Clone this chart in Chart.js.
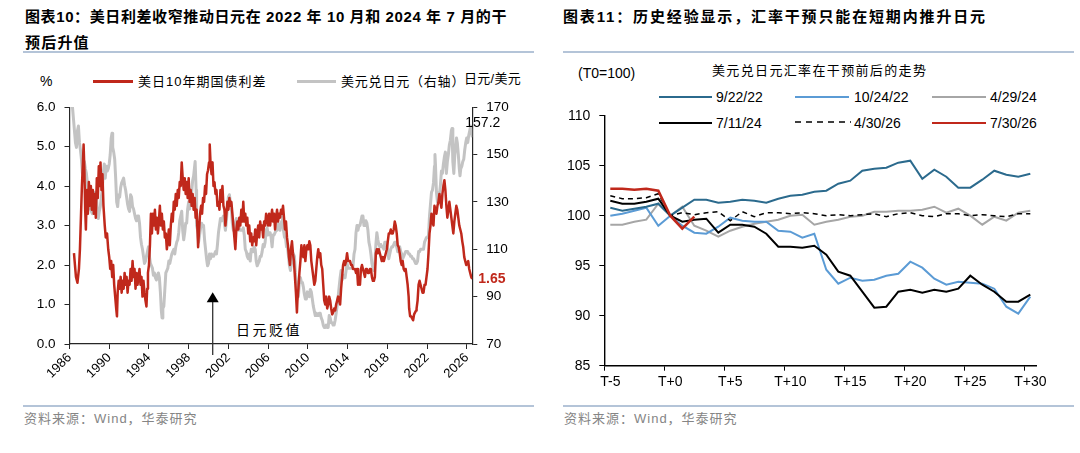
<!DOCTYPE html>
<html lang="zh-CN">
<head>
<meta charset="utf-8">
<script src="https://cdn.jsdelivr.net/npm/chart.js@4.4.1/dist/chart.umd.min.js"></script>
<style>
html,body{margin:0;padding:0;background:#fff;}
body{width:1080px;height:453px;position:relative;overflow:hidden;font-family:"Liberation Sans","Noto Sans CJK SC",sans-serif;color:#000;}
.a{position:absolute;white-space:nowrap;line-height:1;}
.ttl{font-weight:bold;font-size:15px;letter-spacing:1.2px;line-height:26px;}
.sep{position:absolute;height:2px;background:#b4c4d8;}
.foot{font-size:13px;color:#858585;letter-spacing:1px;}
.lg{font-size:13px;letter-spacing:1px;}
.lg2{font-size:14px;}
.ln{position:absolute;height:2.2px;}
canvas{position:absolute;}
</style>
</head>
<body>
<div class="a ttl" style="left:25px;top:4px;letter-spacing:0.6px;">图表10：美日利差收窄推动日元在 2022 年 10 月和 2024 年 7 月的干<br><span style="letter-spacing:1.2px;">预后升值</span></div>
<div class="sep" style="left:23px;top:51px;width:511px;"></div>
<div class="a ttl" style="left:563px;top:4px;letter-spacing:1.85px;">图表11：历史经验显示，汇率干预只能在短期内推升日元</div>
<div class="sep" style="left:563px;top:51px;width:511px;"></div>

<!-- left legend / axis titles -->
<div class="a lg" style="left:40px;top:74px;font-size:14px;letter-spacing:0;">%</div>
<div class="ln" style="left:93px;top:80px;width:40px;height:2.5px;background:#c0281b;"></div>
<div class="a lg" style="left:138px;top:74.5px;">美日10年期国债利差</div>
<div class="ln" style="left:297px;top:80px;width:39px;height:2.5px;background:#c3c3c3;"></div>
<div class="a lg" style="left:341px;top:74.5px;letter-spacing:0.8px;">美元兑日元（右轴）</div>
<div class="a lg" style="left:464px;top:72px;letter-spacing:0.3px;">日元/美元</div>
<div class="a" style="left:236px;top:323px;font-size:14px;letter-spacing:2.5px;">日元贬值</div>

<!-- right legend / titles -->
<div class="a" style="left:578px;top:66px;font-size:14px;">(T0=100)</div>
<div class="a" style="left:712px;top:63.5px;font-size:13px;letter-spacing:1.35px;">美元兑日元汇率在干预前后的走势</div>
<div class="ln" style="left:659px;top:96px;width:53px;background:#2b6a8d;"></div>
<div class="a lg2" style="left:716px;top:90px;">9/22/22</div>
<div class="ln" style="left:795px;top:96px;width:54px;background:#5b9bd5;"></div>
<div class="a lg2" style="left:854px;top:90px;">10/24/22</div>
<div class="ln" style="left:932px;top:96px;width:54px;background:#a6a6a6;"></div>
<div class="a lg2" style="left:990px;top:90px;">4/29/24</div>
<div class="ln" style="left:659px;top:122px;width:53px;background:#000;"></div>
<div class="a lg2" style="left:716px;top:116px;">7/11/24</div>
<svg style="position:absolute;left:795px;top:120px;" width="56" height="4"><line x1="0" y1="2" x2="56" y2="2" stroke="#000" stroke-width="1.5" stroke-dasharray="6,5"/></svg>
<div class="a lg2" style="left:854px;top:116px;">4/30/26</div>
<div class="ln" style="left:932px;top:121.5px;width:54px;height:2.5px;background:#c0281b;"></div>
<div class="a lg2" style="left:990px;top:116px;">7/30/26</div>

<canvas id="c1" width="540" height="300" style="left:0;top:90px;"></canvas>
<canvas id="c2" width="540" height="310" style="left:540px;top:90px;"></canvas>

<div class="sep" style="left:23px;top:405px;width:511px;"></div>
<div class="sep" style="left:563px;top:405px;width:511px;"></div>
<div class="a foot" style="left:24px;top:412px;">资料来源：Wind，华泰研究</div>
<div class="a foot" style="left:564px;top:412px;">资料来源：Wind，华泰研究</div>

<script>
// ---------- Left chart data ----------
const xTickYears = [1986,1990,1994,1998,2002,2006,2010,2014,2018,2022,2026];
const spreadDates = [
1986.45,1986.55,1986.65,1986.8,1986.95,
1987.05,1987.15,1987.25,1987.35,1987.42,1987.5,1987.58,1987.65,1987.75,1987.85,1987.95,
1988.05,1988.15,1988.25,1988.35,1988.45,1988.55,1988.65,1988.75,1988.85,1988.95,
1989.05,1989.12,1989.22,1989.32,1989.42,1989.55,1989.65,1989.78,1989.9,
1990.0,1990.1,1990.2,1990.3,1990.4,1990.5,1990.6,1990.7,1990.78,1990.85,1990.95,
1991.05,1991.15,1991.25,1991.35,1991.45,1991.55,1991.65,1991.75,1991.85,1991.95,
1992.05,1992.15,1992.25,1992.35,1992.45,1992.55,1992.65,1992.75,1992.85,1992.95,
1993.05,1993.15,1993.25,1993.35,1993.45,1993.55,1993.65,1993.75,1993.82,1993.9,
1994.0,1994.1,1994.2,1994.3,1994.4,1994.5,1994.6,1994.7,1994.8,1994.9,
1995.0,1995.1,1995.2,1995.3,1995.4,1995.5,1995.6,1995.7,1995.8,1995.9,
1996.0,1996.1,1996.2,1996.3,1996.4,1996.5,1996.6,1996.7,1996.8,1996.9,
1997.0,1997.1,1997.2,1997.3,1997.4,1997.5,1997.6,1997.7,1997.8,1997.9,
1998.0,1998.1,1998.2,1998.3,1998.4,1998.5,1998.6,1998.7,1998.8,1998.9,1998.95,
1999.05,1999.15,1999.25,1999.35,1999.45,1999.55,1999.65,1999.75,1999.85,1999.95,
2000.05,2000.12,2000.2,2000.3,2000.4,2000.5,2000.6,2000.7,2000.8,2000.9,
2001.0,2001.1,2001.2,2001.3,2001.4,2001.5,2001.6,2001.7,2001.8,2001.9,
2002.0,2002.1,2002.2,2002.3,2002.4,2002.5,2002.6,2002.7,2002.8,2002.9,
2003.0,2003.1,2003.2,2003.3,2003.4,2003.5,2003.6,2003.7,2003.8,2003.9,
2004.0,2004.1,2004.2,2004.3,2004.4,2004.5,2004.6,2004.7,2004.8,2004.9,
2005.0,2005.1,2005.2,2005.3,2005.4,2005.5,2005.6,2005.7,2005.8,2005.9,
2006.0,2006.1,2006.2,2006.3,2006.4,2006.5,2006.6,2006.7,2006.8,2006.9,
2007.0,2007.1,2007.2,2007.3,2007.4,2007.5,2007.6,2007.7,2007.8,2007.9,
2008.0,2008.1,2008.2,2008.3,2008.4,2008.5,2008.6,2008.7,2008.8,2008.9,2008.95,
2009.05,2009.15,2009.25,2009.35,2009.45,2009.55,2009.65,2009.75,2009.85,2009.95,
2010.05,2010.15,2010.25,2010.35,2010.45,2010.55,2010.65,2010.75,2010.85,2010.95,
2011.05,2011.15,2011.25,2011.35,2011.45,2011.55,2011.65,2011.75,2011.85,2011.95,
2012.05,2012.15,2012.25,2012.35,2012.45,2012.55,2012.65,2012.75,2012.85,2012.95,
2013.05,2013.15,2013.25,2013.35,2013.45,2013.55,2013.65,2013.75,2013.85,2013.95,
2014.05,2014.15,2014.25,2014.35,2014.45,2014.55,2014.65,2014.75,2014.85,2014.95,
2015.05,2015.15,2015.25,2015.35,2015.45,2015.55,2015.65,2015.75,2015.85,2015.95,
2016.05,2016.15,2016.25,2016.35,2016.45,2016.55,2016.65,2016.75,2016.85,2016.95,
2017.05,2017.15,2017.25,2017.35,2017.45,2017.55,2017.65,2017.75,2017.85,2017.95,
2018.05,2018.15,2018.25,2018.35,2018.45,2018.55,2018.65,2018.75,2018.85,2018.95,
2019.05,2019.15,2019.25,2019.35,2019.45,2019.55,2019.65,2019.75,2019.85,2019.95,
2020.05,2020.15,2020.2,2020.3,2020.4,2020.5,2020.6,2020.7,2020.8,2020.9,2020.95,
2021.05,2021.15,2021.25,2021.35,2021.45,2021.55,2021.65,2021.75,2021.85,2021.95,
2022.05,2022.15,2022.25,2022.35,2022.45,2022.55,2022.65,2022.75,2022.85,2022.95,
2023.05,2023.15,2023.25,2023.35,2023.45,2023.55,2023.65,2023.75,2023.85,2023.95,
2024.05,2024.15,2024.25,2024.35,2024.45,2024.55,2024.65,2024.75,2024.85,2024.95,
2025.05,2025.15,2025.25,2025.35,2025.45,2025.55,2025.65,2025.75,2025.85,2025.95,
2026.05,2026.15,2026.25,2026.35,2026.45,2026.55
];
const spreadValues = [
2.3,2.0,1.7,1.55,1.9,
2.4,3.2,4.0,4.6,5.05,4.4,3.4,2.9,3.9,3.3,4.1,
3.5,4.0,3.4,3.9,3.3,3.8,3.2,4.2,3.7,4.5,
4.0,4.6,3.9,4.3,3.5,3.0,2.7,2.8,2.4,
2.2,1.9,2.1,1.7,2.0,1.5,1.2,0.9,0.7,1.3,1.6,
1.4,1.7,1.3,1.6,1.4,1.8,1.5,1.7,1.3,1.6,
1.5,1.9,1.6,2.1,1.7,1.9,1.4,1.8,1.5,1.7,
1.9,1.5,1.7,1.2,1.6,1.3,1.1,0.95,1.4,1.8,
2.0,2.5,3.3,2.8,3.3,3.0,3.4,2.9,3.2,2.8,
3.1,3.5,3.0,3.3,2.9,3.1,2.7,2.8,2.4,2.6,
2.9,2.5,3.0,3.3,3.1,3.6,3.4,3.8,3.5,3.9,
3.7,4.1,4.0,4.6,4.2,3.9,4.2,3.8,4.1,3.7,
4.2,3.6,3.9,3.5,3.8,3.4,3.7,3.2,3.4,2.8,2.45,
2.9,3.3,3.5,3.3,3.7,3.6,4.0,3.8,4.3,4.4,
4.6,5.05,4.6,4.3,4.6,4.0,4.1,3.8,3.9,3.5,
3.6,3.4,3.9,3.6,4.0,3.5,3.4,3.0,3.3,3.6,
3.4,3.7,3.5,3.6,3.3,3.0,2.7,2.4,2.9,3.1,
2.9,3.2,3.0,3.4,3.1,3.6,3.1,3.3,3.0,3.2,
2.8,3.0,2.6,2.8,2.5,2.7,2.6,2.9,2.5,2.8,
3.0,2.7,3.1,2.9,3.0,2.7,3.1,3.0,3.3,3.2,
3.0,3.3,3.0,3.2,3.4,3.1,3.3,2.9,3.2,3.4,
3.1,3.3,3.2,3.4,3.3,3.5,3.2,2.9,3.1,2.7,
2.5,2.2,2.0,2.4,2.6,2.3,2.1,1.7,1.3,0.8,1.1,
1.4,1.8,2.1,2.5,2.3,2.2,2.5,2.1,2.4,2.5,
2.4,2.6,2.5,2.1,1.9,1.7,1.5,1.6,1.9,2.2,
2.4,2.2,2.3,2.0,1.9,1.5,1.1,1.0,1.2,0.9,
1.0,1.2,1.1,0.9,0.75,0.8,0.9,0.85,1.0,1.1,
1.2,1.1,1.0,1.4,1.7,2.0,2.1,2.0,2.1,2.3,
2.1,2.1,2.1,2.0,2.0,1.9,1.9,1.9,1.8,1.9,
1.5,1.6,1.5,1.9,2.0,1.9,1.8,1.7,1.9,1.9,
1.8,1.8,1.9,1.9,1.7,1.6,1.6,1.7,2.3,2.4,
2.3,2.4,2.3,2.2,2.1,2.2,2.1,2.2,2.3,2.4,
2.6,2.8,2.8,2.9,2.8,2.8,2.9,3.1,3.0,2.8,
2.5,2.45,2.3,2.1,2.0,2.1,1.9,1.85,1.9,1.7,
1.5,1.2,0.9,0.7,0.7,0.65,0.6,0.75,0.8,0.85,0.9,
1.1,1.5,1.6,1.5,1.4,1.3,1.3,1.5,1.5,1.7,
1.9,2.3,2.8,3.0,3.3,3.1,3.0,3.5,3.4,3.3,
3.5,3.6,3.8,3.6,3.45,3.8,4.0,4.15,3.9,3.5,
3.2,3.4,3.6,3.4,3.2,3.0,2.8,3.1,3.3,3.5,
3.4,3.2,3.0,2.9,2.8,2.6,2.45,2.2,2.1,2.0,
2.05,2.1,1.9,1.8,1.7,1.65
];
const fxDates = [
1986.0,1986.15,1986.3,1986.4,1986.5,1986.6,1986.7,1986.8,1986.9,
1987.0,1987.1,1987.2,1987.3,1987.4,1987.5,1987.6,1987.7,1987.8,1987.9,
1988.0,1988.1,1988.2,1988.3,1988.4,1988.5,1988.6,1988.7,1988.8,1988.9,
1989.0,1989.1,1989.2,1989.3,1989.4,1989.5,1989.6,1989.7,1989.8,1989.9,
1990.0,1990.1,1990.2,1990.28,1990.35,1990.45,1990.55,1990.65,1990.75,1990.85,1990.95,
1991.05,1991.15,1991.25,1991.35,1991.45,1991.55,1991.65,1991.75,1991.85,1991.95,
1992.05,1992.15,1992.25,1992.35,1992.45,1992.55,1992.65,1992.75,1992.85,1992.95,
1993.05,1993.15,1993.25,1993.35,1993.45,1993.55,1993.65,1993.75,1993.85,1993.95,
1994.05,1994.15,1994.25,1994.35,1994.45,1994.55,1994.65,1994.75,1994.85,1994.95,
1995.05,1995.15,1995.25,1995.32,1995.4,1995.5,1995.6,1995.7,1995.8,1995.9,
1996.0,1996.1,1996.2,1996.3,1996.4,1996.5,1996.6,1996.7,1996.8,1996.9,
1997.0,1997.1,1997.2,1997.3,1997.4,1997.5,1997.6,1997.7,1997.8,1997.9,
1998.0,1998.1,1998.2,1998.3,1998.4,1998.5,1998.6,1998.65,1998.75,1998.8,1998.9,
1999.0,1999.1,1999.2,1999.3,1999.4,1999.5,1999.6,1999.7,1999.8,1999.9,
2000.0,2000.1,2000.2,2000.3,2000.4,2000.5,2000.6,2000.7,2000.8,2000.9,
2001.0,2001.1,2001.2,2001.3,2001.4,2001.5,2001.6,2001.7,2001.8,2001.9,
2002.0,2002.1,2002.2,2002.3,2002.4,2002.5,2002.6,2002.7,2002.8,2002.9,
2003.0,2003.1,2003.2,2003.3,2003.4,2003.5,2003.6,2003.7,2003.8,2003.9,
2004.0,2004.1,2004.2,2004.3,2004.4,2004.5,2004.6,2004.7,2004.8,2004.9,
2005.0,2005.1,2005.2,2005.3,2005.4,2005.5,2005.6,2005.7,2005.8,2005.9,
2006.0,2006.1,2006.2,2006.3,2006.4,2006.5,2006.6,2006.7,2006.8,2006.9,
2007.0,2007.1,2007.2,2007.3,2007.4,2007.45,2007.55,2007.65,2007.75,2007.85,2007.95,
2008.05,2008.15,2008.25,2008.35,2008.45,2008.55,2008.65,2008.75,2008.85,2008.95,
2009.05,2009.15,2009.25,2009.35,2009.45,2009.55,2009.65,2009.75,2009.85,2009.95,
2010.05,2010.15,2010.25,2010.35,2010.45,2010.55,2010.65,2010.75,2010.85,2010.95,
2011.05,2011.15,2011.25,2011.35,2011.45,2011.55,2011.65,2011.75,2011.85,2011.95,
2012.05,2012.15,2012.25,2012.35,2012.45,2012.55,2012.65,2012.75,2012.85,2012.95,
2013.05,2013.15,2013.25,2013.35,2013.45,2013.55,2013.65,2013.75,2013.85,2013.95,
2014.05,2014.15,2014.25,2014.35,2014.45,2014.55,2014.65,2014.75,2014.85,2014.95,
2015.05,2015.15,2015.25,2015.35,2015.45,2015.55,2015.65,2015.75,2015.85,2015.95,
2016.05,2016.15,2016.25,2016.35,2016.45,2016.55,2016.65,2016.75,2016.85,2016.95,
2017.05,2017.15,2017.25,2017.35,2017.45,2017.55,2017.65,2017.75,2017.85,2017.95,
2018.05,2018.15,2018.25,2018.35,2018.45,2018.55,2018.65,2018.75,2018.85,2018.95,
2019.05,2019.15,2019.25,2019.35,2019.45,2019.55,2019.65,2019.75,2019.85,2019.95,
2020.05,2020.15,2020.25,2020.35,2020.45,2020.55,2020.65,2020.75,2020.85,2020.95,
2021.05,2021.15,2021.25,2021.35,2021.45,2021.55,2021.65,2021.75,2021.85,2021.95,
2022.05,2022.15,2022.25,2022.35,2022.45,2022.55,2022.65,2022.75,2022.8,2022.85,2022.95,
2023.05,2023.15,2023.25,2023.35,2023.45,2023.55,2023.65,2023.75,2023.85,2023.95,
2024.05,2024.15,2024.25,2024.35,2024.45,2024.52,2024.6,2024.7,2024.8,2024.9,2024.97,
2025.05,2025.15,2025.25,2025.32,2025.4,2025.5,2025.6,2025.7,2025.8,2025.9,
2026.0,2026.1,2026.2,2026.3,2026.4,2026.5,2026.56
];
const fxValues = [
200,180,170,165,160,155,153,160,162,
155,152,148,142,145,147,144,142,138,130,
127,128,126,125,126,132,134,133,126,123,
126,128,132,135,142,146,140,145,143,144,
146,150,157,159,153,151,148,140,130,128,133,
132,136,138,139,140,137,135,132,129,127,
126,133,132,128,127,125,123,122,124,124,
121,115,112,110,107,104,105,107,109,111,
107,104,103,102,99,100,98,97,99,100,
98,92,84,81,85,86,93,100,101,102,
105,104,106,108,109,110,108,111,113,114,
117,122,124,126,118,114,117,121,121,127,
130,127,132,134,139,141,145,147,135,120,118,
113,116,119,121,120,120,114,110,106,103,
104,108,106,108,107,107,108,109,108,112,
117,120,123,122,123,124,121,118,122,128,
132,133,130,127,121,118,119,121,123,120,
118,119,118,118,118,119,116,110,109,107,
106,108,105,110,110,109,111,110,105,103,
104,105,107,107,109,112,111,113,118,119,
116,117,117,115,111,116,116,117,118,118,
121,120,118,121,122,124,118,115,115,111,111,
107,103,101,104,107,108,107,100,96,90,
90,97,98,96,96,94,91,89,89,92,
91,90,93,92,89,86,84,82,83,82,
82,83,83,81,80,78,77,77,78,77,
77,82,81,79,79,78,78,80,83,86,
90,94,98,101,97,99,98,98,101,104,
102,102,102,102,102,103,108,110,117,120,
118,120,120,122,124,124,120,120,122,121,
118,113,111,108,104,102,101,104,112,117,
114,112,111,112,111,111,110,113,113,113,
109,106,108,110,111,111,112,113,113,111,
109,111,111,109,108,106,107,108,109,109,
109,108,108,107,107,106,106,105,104,104,
105,109,109,110,110,110,110,113,114,115,
115,116,124,129,134,135,138,145,150,146,134,
130,134,133,137,143,142,146,149,151,142,
147,150,154,156,160,161,147,142,150,154,157,
155,150,144,141,144,145,147,148,152,155,
157,155,158,160,162,160,157.2
];
const arrowYear = 2000.42, arrowTip = 1.31, arrowBase = -0.28;

// ---------- Right chart data ----------
const tLabels = ['T-5','T-4','T-3','T-2','T-1','T+0','T+1','T+2','T+3','T+4','T+5','T+6','T+7','T+8','T+9','T+10','T+11','T+12','T+13','T+14','T+15','T+16','T+17','T+18','T+19','T+20','T+21','T+22','T+23','T+24','T+25','T+26','T+27','T+28','T+29','T+30'];
const s092222 = [100.8,100.5,100.7,100.9,101.2,100.0,100.8,101.6,101.6,101.3,101.4,101.6,101.5,101.3,101.7,102.0,102.1,102.4,102.5,103.2,103.5,104.5,104.7,104.8,105.3,105.5,103.7,104.6,103.9,102.8,102.8,103.6,104.5,104.1,103.9,104.2];
const s102422 = [100.0,100.2,100.5,100.8,99.0,100.0,99.0,98.3,98.2,98.9,99.8,99.5,99.4,99.4,98.5,98.4,97.8,98.2,94.6,93.2,93.8,93.5,93.6,94.0,94.2,95.4,94.8,93.7,93.1,93.4,93.3,93.2,92.7,90.9,90.2,91.9];
const s042924 = [99.1,99.1,99.4,99.6,101.2,100.0,100.9,99.0,98.5,97.9,98.5,98.9,99.2,99.4,99.6,100.0,100.1,99.1,99.4,99.6,99.9,100.0,100.4,100.4,100.5,100.5,100.6,100.9,100.3,100.7,100.0,99.1,99.9,99.5,100.3,100.5];
const s071124 = [101.5,101.2,101.2,101.4,101.7,100.0,99.4,99.6,99.7,98.3,99.1,99.1,98.9,98.2,96.9,96.9,96.8,97.0,96.1,94.4,94.0,92.4,90.8,90.9,92.4,92.6,92.3,92.6,92.4,92.7,94.0,93.1,92.4,91.4,91.4,92.1];
const s043026 = [102.0,101.7,101.7,101.8,102.2,100.0,100.3,100.1,100.3,100.4,99.5,100.4,99.9,100.3,100.3,100.2,100.3,100.2,100.0,100.1,100.0,100.1,100.2,99.9,100.2,100.3,100.0,99.9,100.2,100.2,100.0,100.1,100.0,99.9,100.2,100.2];
const s073026 = [102.7,102.7,102.6,102.7,102.5,100.0,98.7,99.9];

const FONT = '"Liberation Sans", Arial, sans-serif';
const AX = '#262626';

// ---------- Left chart ----------
const leftAnnot = {
  id: 'leftAnnot',
  afterDraw(chart) {
    const {ctx, chartArea, scales} = chart;
    const x = scales.x, y = scales.y, y1 = scales.y1;
    ctx.save();
    const ax = x.getPixelForValue(arrowYear);
    const yt = y.getPixelForValue(arrowTip);
    const yb = y.getPixelForValue(arrowBase);
    ctx.strokeStyle = '#333'; ctx.lineWidth = 1.3;
    ctx.beginPath(); ctx.moveTo(ax, yb); ctx.lineTo(ax, yt + 8); ctx.stroke();
    ctx.fillStyle = '#000';
    ctx.beginPath(); ctx.moveTo(ax, yt); ctx.lineTo(ax - 6, yt + 10); ctx.lineTo(ax + 6, yt + 10); ctx.closePath(); ctx.fill();
    const lastS = spreadValues[spreadValues.length - 1];
    const lastF = fxValues[fxValues.length - 1];
    ctx.textBaseline = 'middle'; ctx.textAlign = 'left';
    ctx.font = 'bold 14px ' + FONT; ctx.fillStyle = '#c0281b';
    ctx.fillText(lastS.toFixed(2), chartArea.right + 6, y.getPixelForValue(lastS));
    ctx.font = '14px ' + FONT; ctx.fillStyle = '#000';
    ctx.fillText(lastF.toFixed(1), chartArea.right - 7, y1.getPixelForValue(lastF) - 14);
    ctx.restore();
  }
};

new Chart(document.getElementById('c1'), {
  type: 'line',
  data: {
    datasets: [
      {label: '美日10年期国债利差', data: spreadDates.map((d, i) => ({x: d, y: spreadValues[i]})), yAxisID: 'y', borderColor: '#c0281b', borderWidth: 2.5},
      {label: '美元兑日元（右轴）', data: fxDates.map((d, i) => ({x: d, y: fxValues[i]})), yAxisID: 'y1', borderColor: '#c3c3c3', borderWidth: 3}
    ]
  },
  options: {
    responsive: false, animation: false,
    layout: {padding: {top: 15, left: 0, right: 0, bottom: 0}},
    elements: {point: {radius: 0}, line: {tension: 0, borderJoinStyle: 'round'}},
    plugins: {legend: {display: false}, tooltip: {enabled: false}},
    scales: {
      x: {
        type: 'linear', min: 1986, max: 2026.56,
        afterBuildTicks: s => { s.ticks = xTickYears.map(v => ({value: v})); },
        ticks: {autoSkip: false, minRotation: 45, maxRotation: 45, padding: 1, color: '#000', font: {family: FONT, size: 13}, callback: v => String(v)},
        grid: {drawOnChartArea: false, drawTicks: true, tickLength: 5, tickColor: AX, tickWidth: 1},
        border: {display: true, color: AX, width: 1.2},
        afterFit: s => { s.height = 46; }
      },
      y: {
        position: 'left', min: 0, max: 6,
        ticks: {stepSize: 1, padding: 9, color: '#000', font: {family: FONT, size: 13.5}, callback: v => v.toFixed(1)},
        grid: {drawOnChartArea: false, tickLength: 5, tickColor: AX},
        border: {display: true, color: AX, width: 1.2},
        afterFit: s => { s.width = 69.5; }
      },
      y1: {
        position: 'right', min: 70, max: 170,
        ticks: {stepSize: 20, padding: 9, color: '#000', font: {family: FONT, size: 13.5}},
        grid: {drawOnChartArea: false, tickLength: 5, tickColor: AX},
        border: {display: true, color: AX, width: 1.2},
        afterFit: s => { s.width = 67.7; }
      }
    }
  },
  plugins: [leftAnnot]
});

// ---------- Right chart ----------
new Chart(document.getElementById('c2'), {
  type: 'line',
  data: {
    labels: tLabels,
    datasets: [
      {label: '7/30/26', data: s073026, borderColor: '#c0281b', borderWidth: 2.6},
      {label: '7/11/24', data: s071124, borderColor: '#000000', borderWidth: 2},
      {label: '4/30/26', data: s043026, borderColor: '#000000', borderWidth: 1.5, borderDash: [5, 4]},
      {label: '9/22/22', data: s092222, borderColor: '#2b6a8d', borderWidth: 2},
      {label: '10/24/22', data: s102422, borderColor: '#5b9bd5', borderWidth: 2},
      {label: '4/29/24', data: s042924, borderColor: '#a6a6a6', borderWidth: 2}
    ]
  },
  options: {
    responsive: false, animation: false,
    layout: {padding: {top: 25.7, left: 0, right: 43.7, bottom: 0}},
    elements: {point: {radius: 0}, line: {tension: 0}},
    plugins: {legend: {display: false}, tooltip: {enabled: false}},
    scales: {
      x: {
        type: 'category', offset: true,
        ticks: {autoSkip: false, minRotation: 0, maxRotation: 0, padding: 3, color: '#000', font: {family: FONT, size: 14},
                callback: (v, i) => (i % 5 === 0 ? tLabels[i] : '')},
        grid: {display: true, drawOnChartArea: false, drawTicks: true, tickLength: 5, offset: true,
               tickColor: c => (c.index % 5 === 0 ? '#000' : 'rgba(0,0,0,0)')},
        border: {display: true, color: '#000', width: 1.4},
        afterFit: s => { s.height = 34.3; }
      },
      y: {
        min: 85, max: 110,
        ticks: {stepSize: 5, padding: 9, color: '#000', font: {family: FONT, size: 14}},
        grid: {drawOnChartArea: false, tickLength: 5, tickColor: '#000'},
        border: {display: true, color: '#000', width: 1.4},
        afterFit: s => { s.width = 64.3; }
      }
    }
  }
});
</script>
</body>
</html>
